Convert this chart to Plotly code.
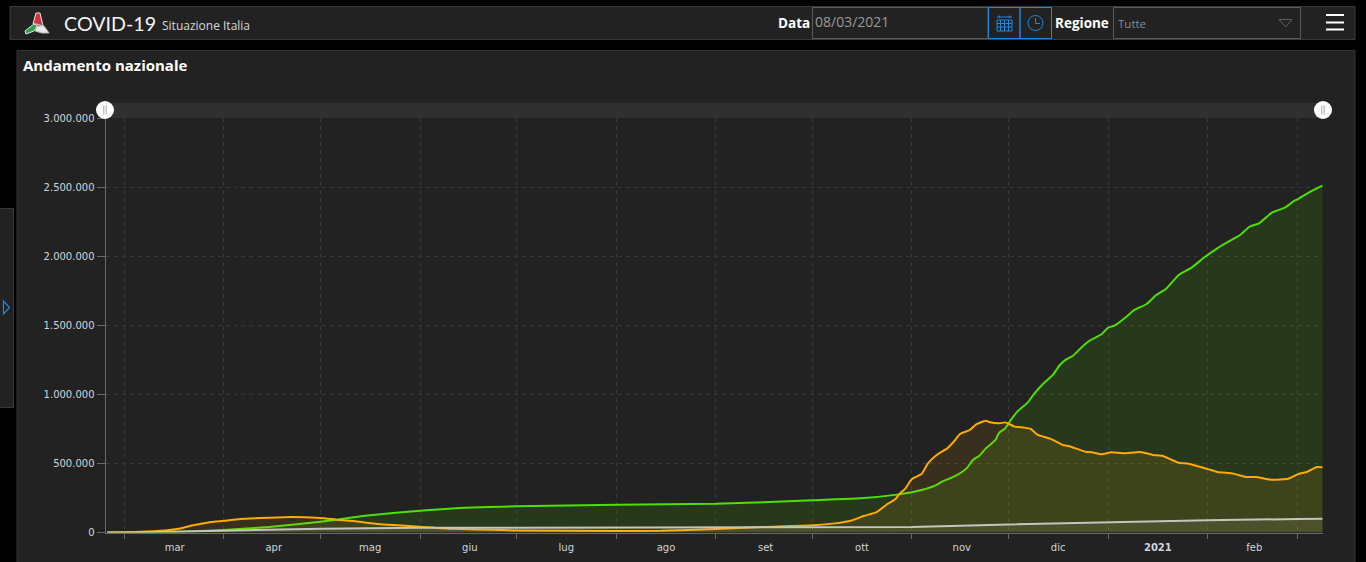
# COVID-19 dashboard, national trend panel
import plotly.graph_objects as go

W, H = 1366, 562

# Values
guariti_dates = ["2020-02-24 17:00", "2020-03-01", "2020-03-15", "2020-04-01", "2020-04-15", "2020-05-01", "2020-05-06",
                 "2020-05-15", "2020-06-01", "2020-06-15", "2020-07-01", "2020-08-01", "2020-09-01", "2020-10-01",
                 "2020-10-16", "2020-10-28", "2020-11-01", "2020-11-04", "2020-11-08", "2020-11-10", "2020-11-15",
                 "2020-11-18", "2020-11-20", "2020-11-22", "2020-11-24", "2020-11-27", "2020-11-28", "2020-11-30",
                 "2020-12-02", "2020-12-04", "2020-12-07", "2020-12-09", "2020-12-12", "2020-12-15", "2020-12-17",
                 "2020-12-19", "2020-12-21", "2020-12-24", "2020-12-26", "2020-12-27", "2020-12-30", "2021-01-01",
                 "2021-01-03", "2021-01-07", "2021-01-09", "2021-01-13", "2021-01-16", "2021-01-19", "2021-01-23",
                 "2021-01-27", "2021-01-31", "2021-02-04", "2021-02-08", "2021-02-11", "2021-02-14", "2021-02-17",
                 "2021-02-21", "2021-02-25", "2021-02-28", "2021-03-01", "2021-03-04", "2021-03-08 17:00"]
guariti = [0, 100, 2000, 18000, 40000, 78000, 93000,
           121000, 158000, 180000, 190000, 201000, 208000, 233000,
           247000, 276000, 291000, 307000, 337000, 363000, 416000,
           464000, 525000, 556000, 609000, 670000, 718000, 754000,
           822000, 880000, 940000, 1003000, 1080000, 1145000, 1212000,
           1253000, 1277000, 1345000, 1384000, 1398000, 1435000, 1482000,
           1497000, 1567000, 1608000, 1654000, 1719000, 1762000, 1864000,
           1917000, 1992000, 2057000, 2112000, 2151000, 2213000, 2238000,
           2315000, 2351000, 2402000, 2412000, 2455000, 2510000]

positivi_dates = ["2020-02-24 17:00", "2020-03-01", "2020-03-08", "2020-03-15", "2020-03-18", "2020-03-22", "2020-03-28",
                  "2020-04-01", "2020-04-06", "2020-04-15", "2020-04-22", "2020-05-01", "2020-05-06", "2020-05-12",
                  "2020-05-18", "2020-05-25", "2020-06-01", "2020-06-11", "2020-06-27", "2020-07-01", "2020-08-01",
                  "2020-08-15", "2020-09-01", "2020-09-15", "2020-10-01", "2020-10-08", "2020-10-13", "2020-10-17",
                  "2020-10-21", "2020-10-24", "2020-10-27", "2020-10-28", "2020-10-30", "2020-11-01", "2020-11-04",
                  "2020-11-06", "2020-11-09", "2020-11-12", "2020-11-14", "2020-11-16", "2020-11-19", "2020-11-21",
                  "2020-11-24", "2020-11-25", "2020-11-28", "2020-11-30", "2020-12-01", "2020-12-03", "2020-12-06",
                  "2020-12-08", "2020-12-10", "2020-12-13", "2020-12-14", "2020-12-18", "2020-12-20", "2020-12-25",
                  "2020-12-27", "2020-12-30", "2021-01-02", "2021-01-06", "2021-01-11", "2021-01-15", "2021-01-18",
                  "2021-01-23", "2021-01-26", "2021-02-01", "2021-02-04", "2021-02-09", "2021-02-13", "2021-02-16",
                  "2021-02-21", "2021-02-26", "2021-03-01", "2021-03-04", "2021-03-07", "2021-03-08 17:00"]
positivi = [0, 1500, 7000, 18000, 27000, 50000, 76000,
            85000, 98000, 107000, 112000, 105000, 93000, 81000,
            64000, 52000, 42000, 27000, 18000, 15000, 11000,
            12000, 25000, 40000, 52000, 66000, 85000, 119000,
            148000, 199000, 245000, 276000, 320000, 387000, 423000,
            501000, 566000, 609000, 657000, 713000, 742000, 783000,
            809000, 800000, 790000, 797000, 788000, 766000, 759000,
            749000, 708000, 686000, 679000, 633000, 624000, 585000,
            580000, 566000, 580000, 573000, 583000, 561000, 554000,
            505000, 498000, 460000, 438000, 426000, 402000, 402000,
            382000, 389000, 421000, 440000, 474000, 472000]

deceduti_dates = ["2020-02-24 17:00", "2020-03-01", "2020-04-01", "2020-05-01", "2020-06-01", "2020-07-01", "2020-08-01",
                  "2020-09-01", "2020-10-01", "2020-11-01", "2020-12-01", "2021-01-01", "2021-02-01", "2021-03-01",
                  "2021-03-08 17:00"]
deceduti = [0, 100, 13000, 28000, 33500, 34800, 35100, 35500, 36000, 40000, 58000, 75000, 89000, 97500, 100000]

month_starts = ["2020-03-01", "2020-04-01", "2020-05-01", "2020-06-01", "2020-07-01", "2020-08-01", "2020-09-01",
                "2020-10-01", "2020-11-01", "2020-12-01", "2021-01-01", "2021-02-01", "2021-03-01"]
month_mids = ["2020-03-16 16:00", "2020-04-16 12:00", "2020-05-16 12:00", "2020-06-16 12:00", "2020-07-16 12:00",
              "2020-08-16 12:00", "2020-09-16 12:00", "2020-10-16 12:00", "2020-11-16 12:00", "2020-12-16 12:00",
              "2021-01-16 12:00", "2021-02-15 12:00"]
month_labels = ["mar", "apr", "mag", "giu", "lug", "ago", "set", "ott", "nov", "dic", "<b>2021</b>", "feb"]
y_ticks = [0, 500000, 1000000, 1500000, 2000000, 2500000, 3000000]

BG = "#222222"
BLUE = "#1e88e5"
GRID = "#383838"
LABEL = "#d0d6dc"
FONT = "Open Sans"
TICK_FONT = "DejaVu Sans"


# Screen pixels to paper coordinates
def px(x):
    return x / W


def py(y):
    return 1 - y / H


def rect(x0, y0, x1, y1, fill=None, line=None, width=1, layer="below"):
    return dict(type="rect", xref="paper", yref="paper", x0=px(x0), y0=py(y0), x1=px(x1), y1=py(y1),
                fillcolor=fill if fill else "rgba(0,0,0,0)",
                line=dict(color=line if line else "rgba(0,0,0,0)", width=width if line else 0), layer=layer)


def circle(cx, cy, r, fill=None, line=None, width=1, layer="above"):
    return dict(type="circle", xref="paper", yref="paper", x0=px(cx - r), y0=py(cy - r), x1=px(cx + r), y1=py(cy + r),
                fillcolor=fill if fill else "rgba(0,0,0,0)",
                line=dict(color=line if line else "rgba(0,0,0,0)", width=width if line else 0), layer=layer)


def seg(x0, y0, x1, y1, color, width=1, layer="above"):
    return dict(type="line", xref="paper", yref="paper", x0=px(x0), y0=py(y0), x1=px(x1), y1=py(y1),
                line=dict(color=color, width=width), layer=layer)


def poly(points, fill=None, line=None, width=1, layer="above"):
    path = "M " + " L ".join(f"{px(x):.5f},{py(y):.5f}" for x, y in points) + " Z"
    return dict(type="path", xref="paper", yref="paper", path=path,
                fillcolor=fill if fill else "rgba(0,0,0,0)",
                line=dict(color=line if line else "rgba(0,0,0,0)", width=width if line else 0), layer=layer)


def label(x, y, text, size, color="#ffffff", anchor="left", family=FONT):
    return dict(xref="paper", yref="paper", x=px(x), y=py(y), text=text, showarrow=False, xanchor=anchor,
                yanchor="middle", align=anchor, font=dict(family=family, size=size, color=color))


fig = go.Figure()

fig.add_trace(go.Scatter(x=guariti_dates, y=guariti, mode="lines", fill="tozeroy",
                         line=dict(color="#4ee000", width=2, shape="spline", smoothing=0.5),
                         fillcolor="rgba(80,224,0,0.12)"))
fig.add_trace(go.Scatter(x=positivi_dates, y=positivi, mode="lines", fill="tozeroy",
                         line=dict(color="#ffaa00", width=2, shape="spline", smoothing=0.5),
                         fillcolor="rgba(255,170,0,0.10)"))
fig.add_trace(go.Scatter(x=deceduti_dates, y=deceduti, mode="lines", fill="tozeroy",
                         line=dict(color="#c4c4c0", width=2), fillcolor="rgba(255,255,255,0.08)"))

shapes = [
    # header and panels
    rect(10, 6.5, 1355, 39.5, BG, "#3a3a3a"),
    rect(17, 50.5, 1355, 570, BG, "#333333"),
    rect(-2, 208.5, 13.5, 407.5, BG, "#3a3a3a"),
    poly([(3.5, 301), (3.5, 314), (9.5, 307.5)], None, BLUE, 1.2),
    # date input and select
    rect(812.5, 7.5, 988, 38.5, None, "#5a5a5a"),
    rect(1113.5, 7.5, 1300.5, 38.5, None, "#5a5a5a"),
    poly([(1279, 19.5), (1292, 19.5), (1285.5, 27)], None, "#5f5f5f"),
    # calendar button
    rect(988.5, 7.5, 1020, 38.5, None, BLUE),
    rect(1020, 7.5, 1051.5, 38.5, None, BLUE),
    rect(997, 20, 1012, 31, None, BLUE),
    seg(997, 23.5, 1012, 23.5, BLUE),
    seg(997, 27, 1012, 27, BLUE),
    seg(1000.5, 20, 1000.5, 31, BLUE),
    seg(1004.5, 20, 1004.5, 31, BLUE),
    seg(1008.5, 20, 1008.5, 31, BLUE),
    seg(997, 17, 1012, 17, BLUE),
    seg(999.5, 15.5, 999.5, 18, BLUE),
    seg(1009.5, 15.5, 1009.5, 18, BLUE),
    # clock button
    circle(1035.5, 23, 7.5, None, BLUE),
    seg(1035.5, 18, 1035.5, 23.5, BLUE),
    seg(1035.5, 23.5, 1040, 23.5, BLUE),
    # menu
    seg(1326, 15, 1344, 15, "#ffffff", 2),
    seg(1326, 22.5, 1344, 22.5, "#ffffff", 2),
    seg(1326, 29.5, 1344, 29.5, "#ffffff", 2),
    # logo
    poly([(36, 13), (40, 13), (43, 26), (36, 24), (33, 24)], "#d4343f", "#e8e8e8"),
    poly([(34, 24), (37, 26), (34, 31), (26, 34), (25, 31)], "#2f9e44", "#e8e8e8"),
    poly([(37, 26), (44, 26), (49, 33), (42, 33), (35, 31)], "#e8e8e8", "#b8b8b8"),
    # time slider
    rect(105, 103, 1323, 118, "#303030"),
    seg(105.5, 103, 105.5, 118, "#6a6a6a"),
    circle(105, 110, 9, "#ffffff"),
    seg(103.8, 105.5, 103.8, 114.5, "#a8a8a8"),
    seg(106.2, 105.5, 106.2, 114.5, "#a8a8a8"),
    circle(1323, 110, 9, "#ffffff"),
    seg(1321.8, 105.5, 1321.8, 114.5, "#a8a8a8"),
    seg(1324.2, 105.5, 1324.2, 114.5, "#a8a8a8"),
]

annotations = [
    label(61.5, 23.5, "COVID-19", 19.7, "#f4f4f4", family="Lato"),
    label(160, 26, "Situazione Italia", 12, "#d8d8d8"),
    label(776, 23.5, "<b>Data</b>", 13.5),
    label(812.5, 22, "08/03/2021", 14, "#9a9a9a"),
    label(1053, 23.5, "<b>Regione</b>", 13.5),
    label(1116, 23.5, "Tutte", 11.5, "#8c8c8c"),
    label(21, 65, "<b>Andamento nazionale</b>", 15),
]

fig.update_layout(
    width=W,
    height=H,
    margin=dict(l=0, r=0, t=0, b=0),
    paper_bgcolor="#000000",
    plot_bgcolor="rgba(0,0,0,0)",
    showlegend=False,
    separators=",.",
    font=dict(family=FONT, size=11, color=LABEL),
    shapes=shapes,
    annotations=annotations,
)

fig.update_xaxes(
    domain=[px(105.5), px(1323)],
    automargin=False,
    type="date",
    range=["2020-02-24 04:00", "2021-03-08 21:00"],
    tickmode="array",
    tickvals=month_mids,
    ticktext=month_labels,
    ticks="outside",
    ticklen=5,
    tickcolor="rgba(0,0,0,0)",
    tickangle=0,
    tickfont=dict(family=TICK_FONT, size=10, color=LABEL),
    showgrid=False,
    zeroline=False,
    showline=True,
    linecolor="#6a6a6a",
    linewidth=1,
    minor=dict(tickmode="array", tickvals=month_starts, ticks="outside", ticklen=5, tickcolor="#6a6a6a",
               showgrid=True, gridcolor=GRID, griddash="4px,4px", gridwidth=1),
)
fig.update_yaxes(
    domain=[py(532.5), py(118)],
    automargin=False,
    range=[0, 3000000],
    tickmode="array",
    tickvals=y_ticks,
    tickformat=",d",
    ticks="outside",
    ticklen=8,
    tickcolor="#6a6a6a",
    tickfont=dict(family=TICK_FONT, size=10, color=LABEL),
    showgrid=True,
    gridcolor=GRID,
    griddash="4px,4px",
    gridwidth=1,
    zeroline=False,
    showline=True,
    linecolor="#6a6a6a",
    linewidth=1,
)

fig.write_html("out.html", config=dict(displayModeBar=False),
               post_script="document.body.style.margin='0';document.documentElement.style.overflow='hidden';")
